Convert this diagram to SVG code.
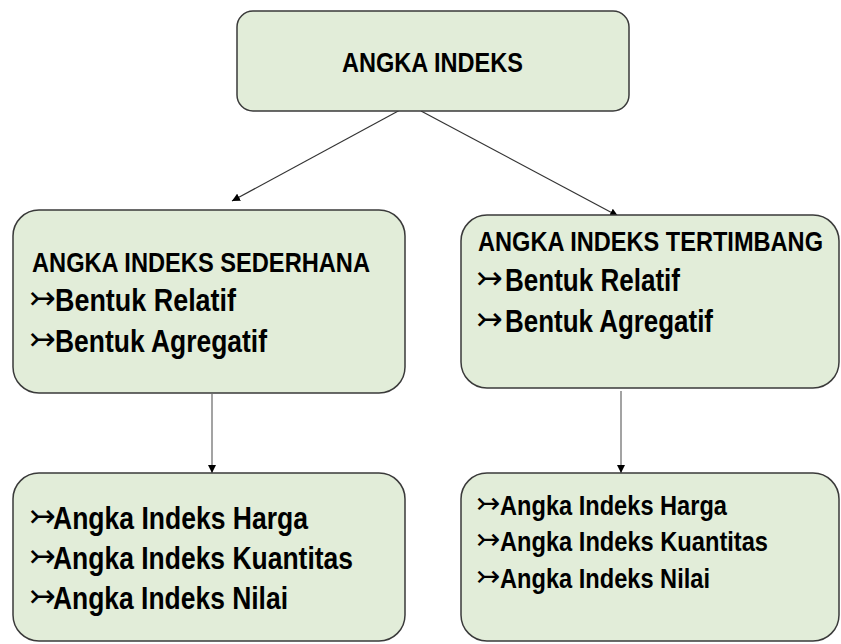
<svg xmlns="http://www.w3.org/2000/svg" width="841" height="644" viewBox="0 0 841 644">
<defs>
<style>
.box{fill:#E2EDD9;stroke:#3a3a3a;stroke-width:1.5}
.t{font-family:"Liberation Sans",Arial,sans-serif;font-weight:bold;fill:#000}
.b{font-family:"DejaVu Sans",sans-serif;font-weight:normal;fill:#000}
.c{stroke:#333;stroke-width:1.2;fill:none}
.v{stroke:#666;stroke-width:1.2;fill:none}
</style>
<marker id="ah" viewBox="0 0 10 10" refX="10" refY="5" markerWidth="8" markerHeight="8" markerUnits="userSpaceOnUse" orient="auto">
<path d="M0,0 L10,5 L0,10 Z" fill="#000"/>
</marker>
</defs>
<rect width="841" height="644" fill="#fff"/>
<g id="connectors">
<line class="c" x1="413" y1="103" x2="232" y2="201" marker-end="url(#ah)"/>
<line class="c" x1="421" y1="111" x2="618" y2="216" marker-end="url(#ah)"/>
<line class="v" x1="212" y1="394" x2="212" y2="473" marker-end="url(#ah)"/>
<line class="v" x1="621" y1="391" x2="621" y2="473" marker-end="url(#ah)"/>
</g>
<g id="root">
<rect class="box" x="237" y="11" width="392" height="100" rx="16"/>
<text class="t" x="342" y="72" font-size="28" textLength="181" lengthAdjust="spacingAndGlyphs">ANGKA INDEKS</text>
</g>
<g id="sederhana">
<rect class="box" x="13" y="210" width="392" height="183" rx="26"/>
<text class="t" x="32" y="272" font-size="28" textLength="338" lengthAdjust="spacingAndGlyphs">ANGKA INDEKS SEDERHANA</text>
<text y="311"><tspan class="b" x="29" dy="-2" font-size="32">↣</tspan><tspan class="t" x="55" y="311" font-size="31" textLength="181" lengthAdjust="spacingAndGlyphs">Bentuk Relatif</tspan></text>
<text y="352"><tspan class="b" x="29" dy="-2" font-size="32">↣</tspan><tspan class="t" x="55" y="352" font-size="31" textLength="212" lengthAdjust="spacingAndGlyphs">Bentuk Agregatif</tspan></text>
</g>
<g id="tertimbang">
<rect class="box" x="461" y="215" width="378" height="173" rx="26"/>
<text class="t" x="478" y="251" font-size="28" textLength="345" lengthAdjust="spacingAndGlyphs">ANGKA INDEKS TERTIMBANG</text>
<text y="291"><tspan class="b" x="476" dy="-2" font-size="32">↣</tspan><tspan class="t" x="505" y="291" font-size="31" textLength="175" lengthAdjust="spacingAndGlyphs">Bentuk Relatif</tspan></text>
<text y="332"><tspan class="b" x="476" dy="-2" font-size="32">↣</tspan><tspan class="t" x="505" y="332" font-size="31" textLength="208" lengthAdjust="spacingAndGlyphs">Bentuk Agregatif</tspan></text>
</g>
<g id="jenis-sederhana">
<rect class="box" x="13" y="473" width="392" height="168" rx="26"/>
<text y="529"><tspan class="b" x="29" dy="-2" font-size="32">↣</tspan><tspan class="t" x="53" y="529" font-size="31" textLength="255" lengthAdjust="spacingAndGlyphs">Angka Indeks Harga</tspan></text>
<text y="569"><tspan class="b" x="29" dy="-2" font-size="32">↣</tspan><tspan class="t" x="53" y="569" font-size="31" textLength="300" lengthAdjust="spacingAndGlyphs">Angka Indeks Kuantitas</tspan></text>
<text y="609"><tspan class="b" x="29" dy="-2" font-size="32">↣</tspan><tspan class="t" x="53" y="609" font-size="31" textLength="235" lengthAdjust="spacingAndGlyphs">Angka Indeks Nilai</tspan></text>
</g>
<g id="jenis-tertimbang">
<rect class="box" x="461" y="473" width="378" height="168" rx="26"/>
<text y="515"><tspan class="b" x="476" dy="-2" font-size="29">↣</tspan><tspan class="t" x="500" y="515" font-size="28" textLength="227" lengthAdjust="spacingAndGlyphs">Angka Indeks Harga</tspan></text>
<text y="551"><tspan class="b" x="476" dy="-2" font-size="29">↣</tspan><tspan class="t" x="500" y="551" font-size="28" textLength="268" lengthAdjust="spacingAndGlyphs">Angka Indeks Kuantitas</tspan></text>
<text y="588"><tspan class="b" x="476" dy="-2" font-size="29">↣</tspan><tspan class="t" x="500" y="588" font-size="28" textLength="210" lengthAdjust="spacingAndGlyphs">Angka Indeks Nilai</tspan></text>
</g>
</svg>
